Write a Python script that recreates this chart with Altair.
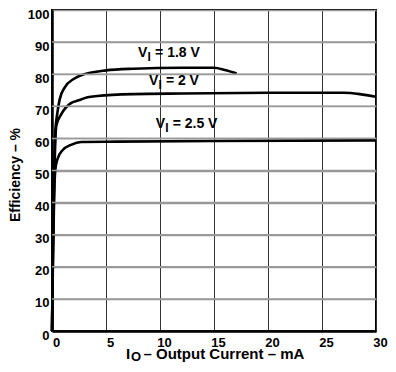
import altair as alt
import pandas as pd

# Efficiency curves (IO in mA, efficiency in %)
cur_18 = [0, 0.1, 0.2, 0.3, 0.5, 0.7, 1.2, 2.0, 2.7, 5, 7.5, 12, 15, 16, 17.1]
eff_18 = [0, 30, 50, 62, 68, 72, 76, 78.5, 79.7, 81.2, 81.7, 82, 82, 81.3, 80.2]
cur_2 = [0, 0.1, 0.2, 0.4, 0.85, 1.75, 2.4, 3.3, 4.2, 7.5, 12, 20, 27, 28.5, 30]
eff_2 = [0, 28, 46, 64, 67.5, 71, 71.8, 72.8, 73.2, 73.8, 74, 74.2, 74.2, 73.8, 73]
cur_25 = [0, 0.1, 0.2, 0.3, 0.5, 1.0, 1.76, 2.7, 6, 15, 30]
eff_25 = [0, 25, 42, 50, 53.5, 56.4, 58, 58.9, 59, 59.2, 59.4]

# Curve labels
lab_volts = ["1.8", "2", "2.5"]
lab_x = [7.97, 8.97, 9.6]
lab_y = [86.7, 77.8, 64.5]

x_ticks = [0, 5, 10, 15, 20, 25, 30]
y_ticks = [0, 10, 20, 30, 40, 50, 60, 70, 80, 90, 100]

FONT = "Liberation Sans, Arial, Helvetica"

rows = []
for name, xs_, ys_ in [("1.8", cur_18, eff_18), ("2", cur_2, eff_2), ("2.5", cur_25, eff_25)]:
    for i, (a, b) in enumerate(zip(xs_, ys_)):
        rows.append({"series": name, "io": a, "eff": b, "order": i})
df = pd.DataFrame(rows)

labels = pd.DataFrame({"v": lab_volts, "x": lab_x, "y": lab_y})
labels["rest"] = "= " + labels["v"] + " V"

xs = alt.Scale(domain=[0, 30], nice=False)
ys = alt.Scale(domain=[0, 100], nice=False)

x_axis = alt.Axis(values=x_ticks, title=None, grid=True, gridColor="#333333",
                  gridWidth=1, ticks=False, labelOffset=4, labelPadding=5,
                  labelOverlap=False, labelFlush=False,
                  domainColor="black", domainWidth=2.5)
y_axis = alt.Axis(values=y_ticks, title=None, grid=True, gridColor="#999999", gridWidth=1.5,
                  ticks=False, labelOffset=4, labelPadding=3,
                  domainColor="black", domainWidth=2.5)

grid_df = pd.DataFrame({"g": y_ticks[1:-1], "x0": [x_ticks[0]] * 9, "x1": [x_ticks[-1]] * 9})
hgrid = alt.Chart(grid_df).mark_rule(color="#999999", strokeWidth=1.5).encode(
    x=alt.X("x0:Q", scale=xs, axis=x_axis),
    x2="x1:Q",
    y=alt.Y("g:Q", scale=ys, axis=y_axis))

lines = alt.Chart(df).mark_line(color="black", strokeWidth=2.6, interpolate="monotone").encode(
    x=alt.X("io:Q", scale=xs, axis=x_axis),
    y=alt.Y("eff:Q", scale=ys, axis=y_axis),
    detail="series:N",
    order="order:Q",
)

base_lab = alt.Chart(labels)
lx = alt.X("x:Q", scale=xs, axis=x_axis)
ly = alt.Y("y:Q", scale=ys, axis=y_axis)
t_v = base_lab.mark_text(align="left", baseline="middle", font=FONT, fontSize=14, fontWeight="bold", color="black").encode(
    x=lx, y=ly, text=alt.value("V"))
t_i = base_lab.mark_text(align="left", baseline="middle", font=FONT, fontSize=12, fontWeight="bold", color="black",
                         dx=9.5, dy=4).encode(
    x=lx, y=ly, text=alt.value("I"))
t_r = base_lab.mark_text(align="left", baseline="middle", font=FONT, fontSize=14, fontWeight="bold", color="black",
                         dx=17).encode(
    x=lx, y=ly, text="rest:N")

one = pd.DataFrame({"a": [0]})
xt1 = alt.Chart(one).mark_text(align="left", baseline="middle", font=FONT, fontSize=15, fontWeight="bold",
                               color="black").encode(x=alt.value(74), y=alt.value(344), text=alt.value("I"))
xt2 = alt.Chart(one).mark_text(align="left", baseline="middle", font=FONT, fontSize=13, fontWeight="bold",
                               color="black").encode(x=alt.value(79), y=alt.value(347), text=alt.value("O"))
xt3 = alt.Chart(one).mark_text(align="left", baseline="middle", font=FONT, fontSize=15, fontWeight="bold",
                               color="black").encode(x=alt.value(91.5), y=alt.value(344),
                                                     text=alt.value("– Output Current – mA"))
yt = alt.Chart(one).mark_text(align="center", baseline="middle", font=FONT, fontSize=14, fontWeight="bold",
                              color="black", angle=270).encode(x=alt.value(-36), y=alt.value(165),
                                                               text=alt.value("Efficiency – %"))

chart = alt.layer(lines, t_v, t_i, t_r, xt1, xt2, xt3, yt, hgrid).properties(
    width=324, height=321,
    padding={"left": 44, "top": 2, "right": 12, "bottom": 33},
    autosize=alt.AutoSizeParams(type="none"),
).configure_view(stroke="black", strokeWidth=2).configure_axis(
    labelFont=FONT, labelFontSize=13, labelFontWeight="bold", labelColor="black"
)

chart.save("out.html", embed_options={"renderer": "svg", "actions": False})
